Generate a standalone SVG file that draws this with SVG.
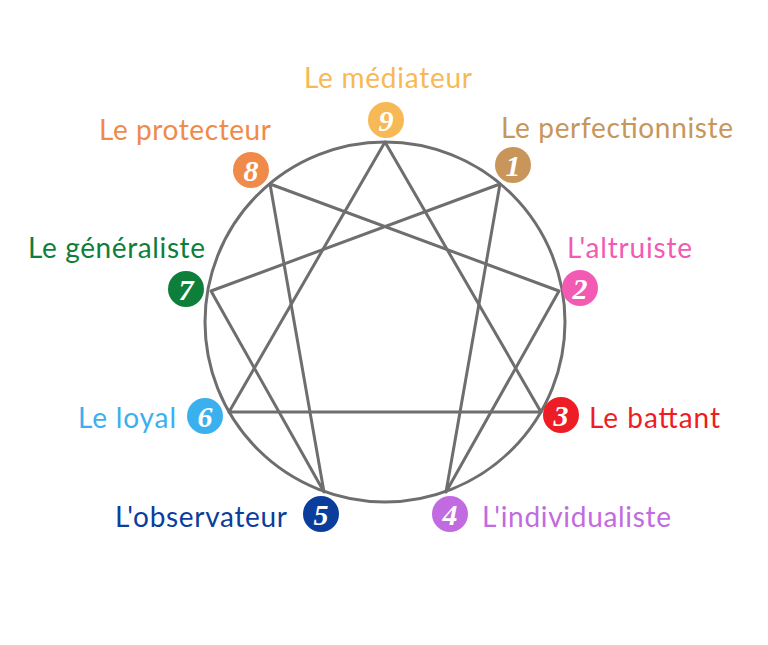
<svg xmlns="http://www.w3.org/2000/svg" width="768" height="645" viewBox="0 0 768 645">
<style>
.lbl{font-family:Lato,"Open Sans","Liberation Sans",sans-serif;font-size:28px}
.num{font-family:"Liberation Serif",serif;font-size:30px;font-weight:bold;font-style:italic;fill:#fff;text-anchor:middle}
.ln{stroke:#6e6e6e;stroke-width:3;fill:none;stroke-linejoin:round}
</style>
<rect width="768" height="645" fill="#fff"/>
<g id="connectors">
<circle class="ln" cx="385" cy="322" r="180"/>
<polygon class="ln" points="385,142 541,412 229,412"/>
<polygon class="ln" points="500,184 446,492 559,291 270,184 324,492 211,291"/>
</g>
<g id="n9"><circle cx="386" cy="120" r="18" fill="#F7B955"/><text class="num" x="386" y="131">9</text><text class="lbl" x="304" y="88" fill="#F7B955" textLength="168">Le médiateur</text></g>
<g id="n8"><circle cx="251" cy="170" r="18" fill="#F08A4B"/><text class="num" x="251" y="181">8</text><text class="lbl" x="99" y="140" fill="#F08A4B" textLength="172">Le protecteur</text></g>
<g id="n1"><circle cx="513" cy="165" r="18" fill="#C8965A"/><text class="num" x="513" y="176">1</text><text class="lbl" x="501" y="138" fill="#C8965A" textLength="232">Le perfectionniste</text></g>
<g id="n7"><circle cx="186" cy="289" r="18" fill="#0E7F3A"/><text class="num" x="186" y="300">7</text><text class="lbl" x="28" y="258" fill="#0E7F3A" textLength="177">Le généraliste</text></g>
<g id="n2"><circle cx="580" cy="288" r="18" fill="#F25AB4"/><text class="num" x="580" y="299">2</text><text class="lbl" x="567" y="258" fill="#F25AB4" textLength="125">L'altruiste</text></g>
<g id="n6"><circle cx="205" cy="416" r="18" fill="#3BB0EE"/><text class="num" x="205" y="427">6</text><text class="lbl" x="78" y="428" fill="#3BB0EE" textLength="98">Le loyal</text></g>
<g id="n3"><circle cx="561" cy="415" r="18" fill="#EE1C24"/><text class="num" x="561" y="426">3</text><text class="lbl" x="589" y="428" fill="#EE1C24" textLength="131">Le battant</text></g>
<g id="n5"><circle cx="321" cy="514" r="18" fill="#0B3E9C"/><text class="num" x="321" y="525">5</text><text class="lbl" x="115" y="527" fill="#0B3E9C" textLength="172">L'observateur</text></g>
<g id="n4"><circle cx="450" cy="514" r="18" fill="#C26AE0"/><text class="num" x="450" y="525">4</text><text class="lbl" x="482" y="527" fill="#C26AE0" textLength="189">L'individualiste</text></g>
</svg>
